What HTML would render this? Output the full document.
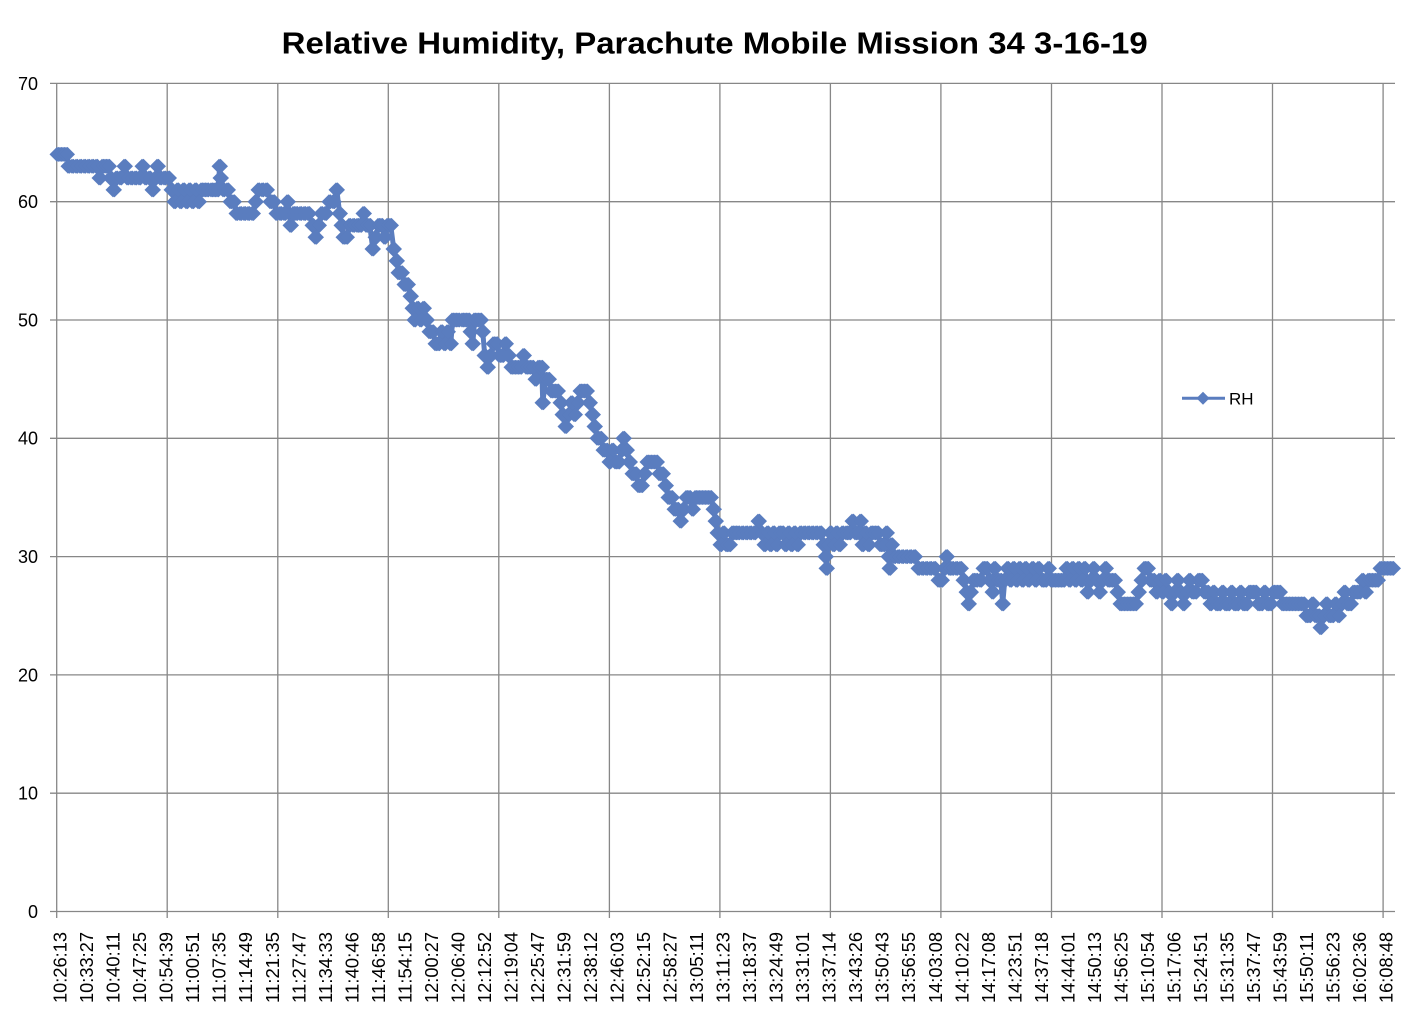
<!DOCTYPE html>
<html>
<head>
<meta charset="utf-8">
<style>
html,body{margin:0;padding:0;background:#fff;}
svg{display:block;}
text{font-family:"Liberation Sans",sans-serif;fill:#000;}
</style>
</head>
<body>
<svg width="1411" height="1024" viewBox="0 0 1411 1024" xmlns="http://www.w3.org/2000/svg">
<defs>
<marker id="dia" markerUnits="userSpaceOnUse" markerWidth="16" markerHeight="16" refX="7.5" refY="7.5" overflow="visible">
<path d="M7.5 0 L15 7.5 L7.5 15 L0 7.5Z" fill="#5a7dbf"/>
</marker>
<polyline id="ser" fill="none" stroke="#5a7dbf" stroke-width="3.5" stroke-linejoin="round" points="57,154.4 60,154.4 63,154.4 66,154.4 68,166.2 72,166.2 76,166.2 80,166.2 84,166.2 88,166.2 92,166.2 96,166.2 99,178.0 102,166.2 105,166.2 108,166.2 110,178.0 113,189.9 116,178.0 120,178.0 124,166.2 127,178.0 131,178.0 135,178.0 139,178.0 142,166.2 145,178.0 149,178.0 152,189.9 155,178.0 157,166.2 160,178.0 164,178.0 168,178.0 171,189.9 174,201.7 177,189.9 180,201.7 183,189.9 186,201.7 189,189.9 192,201.7 195,189.9 198,201.7 201,189.9 204,189.9 207,189.9 211,189.9 214,189.9 217,189.9 219,166.2 220,178.0 223,189.9 227,189.9 230,201.7 233,201.7 236,213.5 240,213.5 244,213.5 248,213.5 252,213.5 255,201.7 258,189.9 262,189.9 266,189.9 270,201.7 273,201.7 276,213.5 280,213.5 284,213.5 287,201.7 290,225.4 293,213.5 296,213.5 300,213.5 304,213.5 308,213.5 312,225.4 315,237.2 318,225.4 321,213.5 325,213.5 329,201.7 333,201.7 336,189.9 339,213.5 341,225.4 343,237.2 346,237.2 349,225.4 353,225.4 357,225.4 360,225.4 363,213.5 366,225.4 369,225.4 372,249.0 375,237.2 378,225.4 381,225.4 384,237.2 387,225.4 390,225.4 393,249.0 396,260.9 398,272.7 401,272.7 404,284.5 407,284.5 410,296.3 412,308.2 414,320.0 417,308.2 420,320.0 423,308.2 426,320.0 429,331.8 432,331.8 435,343.7 438,343.7 441,331.8 444,343.7 447,331.8 450,343.7 452,320.0 455,320.0 458,320.0 462,320.0 465,320.0 468,320.0 470,331.8 472,343.7 474,320.0 477,320.0 480,320.0 482,331.8 484,355.5 487,367.3 490,355.5 493,343.7 496,343.7 499,355.5 502,355.5 505,343.7 508,355.5 511,367.3 514,367.3 517,367.3 520,367.3 523,355.5 526,367.3 529,367.3 532,367.3 535,379.2 538,367.3 541,367.3 542,402.8 545,379.2 548,379.2 551,391.0 554,391.0 557,391.0 560,402.8 562,414.6 565,426.5 568,414.6 571,402.8 574,414.6 577,402.8 580,391.0 583,391.0 586,391.0 589,402.8 592,414.6 594,426.5 597,438.3 600,438.3 603,450.1 606,450.1 609,462.0 612,450.1 615,462.0 618,462.0 621,450.1 623,438.3 626,450.1 629,462.0 632,473.8 635,473.8 638,485.6 641,485.6 644,473.8 647,462.0 650,462.0 653,462.0 656,462.0 659,473.8 662,473.8 665,485.6 668,497.5 671,497.5 674,509.3 677,509.3 680,521.1 683,509.3 686,497.5 689,497.5 692,509.3 695,497.5 698,497.5 701,497.5 704,497.5 707,497.5 710,497.5 713,509.3 715,521.1 717,532.9 720,544.8 723,532.9 726,544.8 729,544.8 732,532.9 735,532.9 738,532.9 742,532.9 746,532.9 750,532.9 754,532.9 758,521.1 761,532.9 764,544.8 767,532.9 770,544.8 773,532.9 776,544.8 779,532.9 782,532.9 785,544.8 788,532.9 791,544.8 794,532.9 797,544.8 800,532.9 804,532.9 808,532.9 812,532.9 816,532.9 820,532.9 823,544.8 825,556.6 826,568.4 827,544.8 830,532.9 833,544.8 836,532.9 839,544.8 842,532.9 846,532.9 849,532.9 852,521.1 855,532.9 858,532.9 860,521.1 862,544.8 865,532.9 868,544.8 871,532.9 874,532.9 877,532.9 880,544.8 883,544.8 886,532.9 888,556.6 889,568.4 891,544.8 894,556.6 898,556.6 902,556.6 906,556.6 910,556.6 914,556.6 918,568.4 922,568.4 926,568.4 930,568.4 934,568.4 938,580.3 941,580.3 944,568.4 946,556.6 949,568.4 952,568.4 956,568.4 960,568.4 963,580.3 966,592.1 968,603.9 970,592.1 973,580.3 976,580.3 980,580.3 983,568.4 986,568.4 989,580.3 992,592.1 994,568.4 997,580.3 1000,580.3 1002,603.9 1004,580.3 1007,568.4 1010,580.3 1013,568.4 1016,580.3 1019,568.4 1022,580.3 1025,568.4 1028,580.3 1032,568.4 1035,580.3 1038,568.4 1042,580.3 1045,580.3 1048,568.4 1051,580.3 1054,580.3 1057,580.3 1060,580.3 1063,580.3 1066,568.4 1069,580.3 1072,568.4 1075,580.3 1078,568.4 1081,580.3 1084,568.4 1087,592.1 1090,580.3 1093,568.4 1096,580.3 1099,592.1 1102,580.3 1105,568.4 1108,580.3 1111,580.3 1114,580.3 1117,592.1 1120,603.9 1123,603.9 1126,603.9 1129,603.9 1132,603.9 1135,603.9 1138,592.1 1141,580.3 1144,568.4 1147,568.4 1150,580.3 1153,580.3 1156,592.1 1159,580.3 1162,592.1 1165,580.3 1168,592.1 1171,603.9 1174,592.1 1177,580.3 1180,592.1 1183,603.9 1186,592.1 1189,580.3 1192,592.1 1195,592.1 1198,580.3 1201,580.3 1204,592.1 1207,592.1 1210,603.9 1213,592.1 1216,603.9 1219,603.9 1222,592.1 1225,603.9 1228,603.9 1231,592.1 1234,603.9 1237,603.9 1240,592.1 1243,603.9 1246,603.9 1249,592.1 1252,592.1 1255,592.1 1258,603.9 1261,603.9 1264,592.1 1267,603.9 1270,603.9 1273,592.1 1276,592.1 1279,592.1 1282,603.9 1285,603.9 1288,603.9 1291,603.9 1294,603.9 1297,603.9 1300,603.9 1303,603.9 1306,615.8 1309,615.8 1312,603.9 1315,615.8 1318,615.8 1320,627.6 1323,615.8 1326,603.9 1329,615.8 1332,615.8 1335,603.9 1338,615.8 1341,603.9 1344,592.1 1347,603.9 1350,603.9 1353,592.1 1356,592.1 1359,592.1 1362,580.3 1365,592.1 1368,580.3 1371,580.3 1374,580.3 1377,580.3 1380,568.4 1383,568.4 1386,568.4 1389,568.4 1392,568.4"/>
</defs>
<rect width="1411" height="1024" fill="#fff"/>
<text x="281.7" y="53.3" font-size="31" font-weight="bold" textLength="866" lengthAdjust="spacingAndGlyphs">Relative Humidity, Parachute Mobile Mission 34 3-16-19</text>
<g stroke="#878787" stroke-width="1.3" fill="none">
<line x1="50" y1="83.4" x2="1395" y2="83.4"/>
<line x1="50" y1="201.7" x2="1395" y2="201.7"/>
<line x1="50" y1="320.0" x2="1395" y2="320.0"/>
<line x1="50" y1="438.3" x2="1395" y2="438.3"/>
<line x1="50" y1="556.6" x2="1395" y2="556.6"/>
<line x1="50" y1="674.9" x2="1395" y2="674.9"/>
<line x1="50" y1="793.2" x2="1395" y2="793.2"/>
<line x1="50" y1="911.5" x2="1395" y2="911.5"/>
<line x1="56.7" y1="83.4" x2="56.7" y2="918"/>
<line x1="167.2" y1="83.4" x2="167.2" y2="918"/>
<line x1="277.8" y1="83.4" x2="277.8" y2="918"/>
<line x1="388.3" y1="83.4" x2="388.3" y2="918"/>
<line x1="498.8" y1="83.4" x2="498.8" y2="918"/>
<line x1="609.4" y1="83.4" x2="609.4" y2="918"/>
<line x1="719.9" y1="83.4" x2="719.9" y2="918"/>
<line x1="830.4" y1="83.4" x2="830.4" y2="918"/>
<line x1="940.9" y1="83.4" x2="940.9" y2="918"/>
<line x1="1051.5" y1="83.4" x2="1051.5" y2="918"/>
<line x1="1162.0" y1="83.4" x2="1162.0" y2="918"/>
<line x1="1272.5" y1="83.4" x2="1272.5" y2="918"/>
<line x1="1383.1" y1="83.4" x2="1383.1" y2="918"/>
</g>
<g font-size="18" text-anchor="end">
<text x="38" y="89.8">70</text>
<text x="38" y="208.1">60</text>
<text x="38" y="326.4">50</text>
<text x="38" y="444.7">40</text>
<text x="38" y="563.0">30</text>
<text x="38" y="681.3">20</text>
<text x="38" y="799.6">10</text>
<text x="38" y="917.9">0</text>
</g>
<g font-size="18" text-anchor="end">
<text transform="translate(66.6,932) rotate(-90)" textLength="71" lengthAdjust="spacingAndGlyphs">10:26:13</text>
<text transform="translate(93.1,932) rotate(-90)" textLength="71" lengthAdjust="spacingAndGlyphs">10:33:27</text>
<text transform="translate(119.6,932) rotate(-90)" textLength="71" lengthAdjust="spacingAndGlyphs">10:40:11</text>
<text transform="translate(146.2,932) rotate(-90)" textLength="71" lengthAdjust="spacingAndGlyphs">10:47:25</text>
<text transform="translate(172.7,932) rotate(-90)" textLength="71" lengthAdjust="spacingAndGlyphs">10:54:39</text>
<text transform="translate(199.2,932) rotate(-90)" textLength="71" lengthAdjust="spacingAndGlyphs">11:00:51</text>
<text transform="translate(225.7,932) rotate(-90)" textLength="71" lengthAdjust="spacingAndGlyphs">11:07:35</text>
<text transform="translate(252.2,932) rotate(-90)" textLength="71" lengthAdjust="spacingAndGlyphs">11:14:49</text>
<text transform="translate(278.8,932) rotate(-90)" textLength="71" lengthAdjust="spacingAndGlyphs">11:21:35</text>
<text transform="translate(305.3,932) rotate(-90)" textLength="71" lengthAdjust="spacingAndGlyphs">11:27:47</text>
<text transform="translate(331.8,932) rotate(-90)" textLength="71" lengthAdjust="spacingAndGlyphs">11:34:33</text>
<text transform="translate(358.3,932) rotate(-90)" textLength="71" lengthAdjust="spacingAndGlyphs">11:40:46</text>
<text transform="translate(384.8,932) rotate(-90)" textLength="71" lengthAdjust="spacingAndGlyphs">11:46:58</text>
<text transform="translate(411.4,932) rotate(-90)" textLength="71" lengthAdjust="spacingAndGlyphs">11:54:15</text>
<text transform="translate(437.9,932) rotate(-90)" textLength="71" lengthAdjust="spacingAndGlyphs">12:00:27</text>
<text transform="translate(464.4,932) rotate(-90)" textLength="71" lengthAdjust="spacingAndGlyphs">12:06:40</text>
<text transform="translate(490.9,932) rotate(-90)" textLength="71" lengthAdjust="spacingAndGlyphs">12:12:52</text>
<text transform="translate(517.4,932) rotate(-90)" textLength="71" lengthAdjust="spacingAndGlyphs">12:19:04</text>
<text transform="translate(544.0,932) rotate(-90)" textLength="71" lengthAdjust="spacingAndGlyphs">12:25:47</text>
<text transform="translate(570.5,932) rotate(-90)" textLength="71" lengthAdjust="spacingAndGlyphs">12:31:59</text>
<text transform="translate(597.0,932) rotate(-90)" textLength="71" lengthAdjust="spacingAndGlyphs">12:38:12</text>
<text transform="translate(623.5,932) rotate(-90)" textLength="71" lengthAdjust="spacingAndGlyphs">12:46:03</text>
<text transform="translate(650.0,932) rotate(-90)" textLength="71" lengthAdjust="spacingAndGlyphs">12:52:15</text>
<text transform="translate(676.6,932) rotate(-90)" textLength="71" lengthAdjust="spacingAndGlyphs">12:58:27</text>
<text transform="translate(703.1,932) rotate(-90)" textLength="71" lengthAdjust="spacingAndGlyphs">13:05:11</text>
<text transform="translate(729.6,932) rotate(-90)" textLength="71" lengthAdjust="spacingAndGlyphs">13:11:23</text>
<text transform="translate(756.1,932) rotate(-90)" textLength="71" lengthAdjust="spacingAndGlyphs">13:18:37</text>
<text transform="translate(782.6,932) rotate(-90)" textLength="71" lengthAdjust="spacingAndGlyphs">13:24:49</text>
<text transform="translate(809.2,932) rotate(-90)" textLength="71" lengthAdjust="spacingAndGlyphs">13:31:01</text>
<text transform="translate(835.7,932) rotate(-90)" textLength="71" lengthAdjust="spacingAndGlyphs">13:37:14</text>
<text transform="translate(862.2,932) rotate(-90)" textLength="71" lengthAdjust="spacingAndGlyphs">13:43:26</text>
<text transform="translate(888.7,932) rotate(-90)" textLength="71" lengthAdjust="spacingAndGlyphs">13:50:43</text>
<text transform="translate(915.2,932) rotate(-90)" textLength="71" lengthAdjust="spacingAndGlyphs">13:56:55</text>
<text transform="translate(941.8,932) rotate(-90)" textLength="71" lengthAdjust="spacingAndGlyphs">14:03:08</text>
<text transform="translate(968.3,932) rotate(-90)" textLength="71" lengthAdjust="spacingAndGlyphs">14:10:22</text>
<text transform="translate(994.8,932) rotate(-90)" textLength="71" lengthAdjust="spacingAndGlyphs">14:17:08</text>
<text transform="translate(1021.3,932) rotate(-90)" textLength="71" lengthAdjust="spacingAndGlyphs">14:23:51</text>
<text transform="translate(1047.8,932) rotate(-90)" textLength="71" lengthAdjust="spacingAndGlyphs">14:37:18</text>
<text transform="translate(1074.4,932) rotate(-90)" textLength="71" lengthAdjust="spacingAndGlyphs">14:44:01</text>
<text transform="translate(1100.9,932) rotate(-90)" textLength="71" lengthAdjust="spacingAndGlyphs">14:50:13</text>
<text transform="translate(1127.4,932) rotate(-90)" textLength="71" lengthAdjust="spacingAndGlyphs">14:56:25</text>
<text transform="translate(1153.9,932) rotate(-90)" textLength="71" lengthAdjust="spacingAndGlyphs">15:10:54</text>
<text transform="translate(1180.4,932) rotate(-90)" textLength="71" lengthAdjust="spacingAndGlyphs">15:17:06</text>
<text transform="translate(1207.0,932) rotate(-90)" textLength="71" lengthAdjust="spacingAndGlyphs">15:24:51</text>
<text transform="translate(1233.5,932) rotate(-90)" textLength="71" lengthAdjust="spacingAndGlyphs">15:31:35</text>
<text transform="translate(1260.0,932) rotate(-90)" textLength="71" lengthAdjust="spacingAndGlyphs">15:37:47</text>
<text transform="translate(1286.5,932) rotate(-90)" textLength="71" lengthAdjust="spacingAndGlyphs">15:43:59</text>
<text transform="translate(1313.0,932) rotate(-90)" textLength="71" lengthAdjust="spacingAndGlyphs">15:50:11</text>
<text transform="translate(1339.6,932) rotate(-90)" textLength="71" lengthAdjust="spacingAndGlyphs">15:56:23</text>
<text transform="translate(1366.1,932) rotate(-90)" textLength="71" lengthAdjust="spacingAndGlyphs">16:02:36</text>
<text transform="translate(1392.6,932) rotate(-90)" textLength="71" lengthAdjust="spacingAndGlyphs">16:08:48</text>
</g>
<use href="#ser" marker-start="url(#dia)" marker-mid="url(#dia)" marker-end="url(#dia)"/>
<g transform="translate(1.5,0)"><use href="#ser" marker-start="url(#dia)" marker-mid="url(#dia)" marker-end="url(#dia)"/></g>
<line x1="1182" y1="398.3" x2="1225" y2="398.3" stroke="#5a7dbf" stroke-width="3"/>
<path d="M1203 391.8 L1209.5 398.3 L1203 404.8 L1196.5 398.3Z" fill="#5a7dbf"/>
<text x="1229" y="404.5" font-size="17">RH</text>
</svg>
</body>
</html>
